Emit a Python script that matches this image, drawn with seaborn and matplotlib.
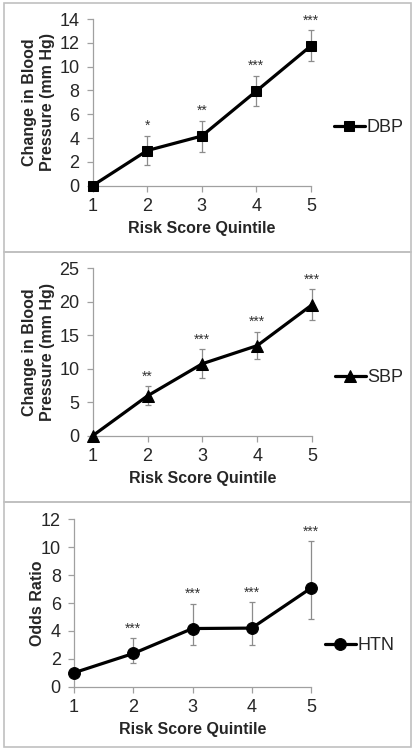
import matplotlib
matplotlib.use("Agg")
import matplotlib.pyplot as plt
import seaborn as sns
from matplotlib.patches import Rectangle

sns.set_style("white")
plt.rcParams['font.family'] = ['Liberation Sans', 'DejaVu Sans']

quintile = [1, 2, 3, 4, 5]

# panel 1: diastolic BP change
dbp = [0, 2.95, 4.17, 7.95, 11.75]
dbp_err = [0, 1.25, 1.3, 1.28, 1.3]
dbp_stars = ["", "*", "**", "***", "***"]

# panel 2: systolic BP change
sbp = [0, 5.95, 10.75, 13.45, 19.55]
sbp_err = [0, 1.4, 2.15, 2.05, 2.3]
sbp_stars = ["", "**", "***", "***", "***"]

# panel 3: odds ratio of hypertension (asymmetric CI)
htn = [1.0, 2.38, 4.17, 4.2, 7.07]
htn_lo = [1.0, 1.67, 2.99, 2.96, 4.83]
htn_hi = [1.0, 3.47, 5.93, 6.05, 10.42]
htn_stars = ["", "***", "***", "***", "***"]

W, H = 415, 752
fig = plt.figure(figsize=(W / 100, H / 100), dpi=100)

# panel borders (pixel coords from top)
for top, bot in [(3, 252), (252, 502), (502, 747)]:
    fig.patches.append(Rectangle((3.5 / W, 1 - bot / H), 407.5 / W, (bot - top) / H,
                                 transform=fig.transFigure, fill=False,
                                 edgecolor='#c0c0c0', linewidth=1.2))


def px_axes(left, right, y0, ytop):
    return fig.add_axes([left / W, 1 - y0 / H, (right - left) / W, (y0 - ytop) / H])


def style(ax, ylim, yticks, ylabel, ylab_x):
    ax.set_xlim(1, 5)
    ax.set_ylim(*ylim)
    ax.set_xticks(quintile)
    ax.set_yticks(yticks)
    for s in ['top', 'right']:
        ax.spines[s].set_visible(False)
    for s in ['left', 'bottom']:
        ax.spines[s].set_color('#a0a0a0')
        ax.spines[s].set_linewidth(0.9)
    ax.tick_params(axis='both', direction='out', length=4, width=0.9, color='#a0a0a0',
                   labelsize=13, left=True, bottom=True)
    ax.tick_params(axis='y', pad=5.5)
    ax.tick_params(axis='x', pad=5)
    ax.set_xlabel("Risk Score Quintile", fontsize=11.5, fontweight='bold', labelpad=4)
    ax.set_ylabel(ylabel, fontsize=11.5, fontweight='bold', linespacing=1.25)
    ax.yaxis.set_label_coords(ylab_x, 0.5)


def draw(ax, y, lo, hi, marker, ms, label, stars):
    yerr = [[v - l for v, l in zip(y, lo)], [h - v for v, h in zip(y, hi)]]
    ax.errorbar(quintile, y, yerr=yerr, fmt='none', ecolor='#8c8c8c', elinewidth=0.9,
                capsize=2.5, capthick=0.9, zorder=1, clip_on=False)
    sns.lineplot(x=quintile, y=y, ax=ax, color='black', linewidth=2.3, marker=marker,
                 markersize=ms, markeredgecolor='black', label=label, zorder=3, clip_on=False)
    for q, h, s in zip(quintile, hi, stars):
        if s:
            ax.annotate(s, (q, h), xytext=(0, 2), textcoords='offset points',
                        ha='center', va='bottom', fontsize=10, color='#333333')


ax1 = px_axes(92.5, 311, 185.7, 19)
draw(ax1, dbp, [v - e for v, e in zip(dbp, dbp_err)], [v + e for v, e in zip(dbp, dbp_err)],
     's', 7.5, "DBP", dbp_stars)
style(ax1, (0, 14), range(0, 15, 2), "Change in Blood\nPressure (mm Hg)", -0.17)

ax2 = px_axes(92.7, 312, 435.7, 268.3)
draw(ax2, sbp, [v - e for v, e in zip(sbp, sbp_err)], [v + e for v, e in zip(sbp, sbp_err)],
     '^', 8.5, "SBP", sbp_stars)
style(ax2, (0, 25), range(0, 26, 5), "Change in Blood\nPressure (mm Hg)", -0.17)

ax3 = px_axes(74, 311, 686.7, 519.3)
draw(ax3, htn, htn_lo, htn_hi, 'o', 8.5, "HTN", htn_stars)
style(ax3, (0, 12), range(0, 13, 2), "Odds Ratio", -0.122)

for ax, lx, ly in [(ax1, 334, 128), (ax2, 335, 378), (ax3, 325, 646)]:
    ax.legend(loc='center left', bbox_to_anchor=(lx / W, 1 - ly / H),
              bbox_transform=fig.transFigure, frameon=False, fontsize=13,
              handlelength=1.7, handletextpad=0.1, borderpad=0, borderaxespad=0)

fig.savefig("out.png", dpi=100)
